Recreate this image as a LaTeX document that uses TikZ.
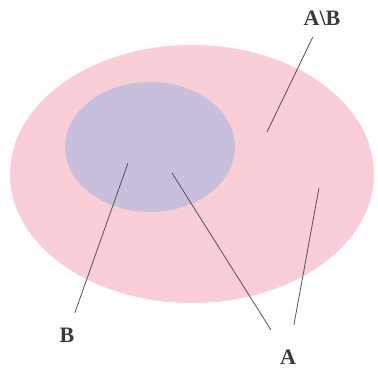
\documentclass[tikz,border=0pt]{standalone}
\usepackage{fontspec}
\setmainfont{Liberation Serif}
\definecolor{VnCanvas}{HTML}{FFFFFF}
\definecolor{VnPink}{HTML}{F9CED6}
\definecolor{VnLilac}{HTML}{C8BFDD}
\definecolor{VnLine}{HTML}{5A4C5E}
\definecolor{VnInk}{HTML}{3A3A3A}
\tikzset{
  setA/.style={fill=VnPink,draw=none},
  setB/.style={fill=VnLilac,draw=none},
  pointer/.style={VnLine,line width=0.8pt},
  setlabel/.style={text=VnInk,font=\fontsize{22}{26}\selectfont\bfseries,inner sep=2pt},
}

\begin{document}
\begin{tikzpicture}[x=1pt,y=1pt]
    \useasboundingbox[fill=VnCanvas] (0,0) rectangle (378,369);

    % the two sets
    \fill[setA] (192,195) ellipse [x radius=182,y radius=129];
    \fill[setB] (150,222) ellipse [x radius=85,y radius=65];

    % labels
    \node[setlabel] (lblAB) at (322,351) {A\textbackslash B};
    \node[setlabel] (lblB) at (67,34) {B};
    \node[setlabel] (lblA) at (288,12) {A};

    % where the pointers start
    \coordinate (inAB) at (267,237);
    \coordinate (inB) at (128,206);
    \coordinate (inA1) at (172,196);
    \coordinate (inA2) at (319,181);

    \draw[pointer,shorten >=10.5pt] (inAB) -- (lblAB);
    \draw[pointer,shorten >=13.5pt] (inB) -- (lblB);
    \draw[pointer,shorten >=21pt] (inA1) -- (lblA);
    \draw[pointer,shorten >=23pt] (inA2) -- (lblA);
  \end{tikzpicture}
\end{document}
